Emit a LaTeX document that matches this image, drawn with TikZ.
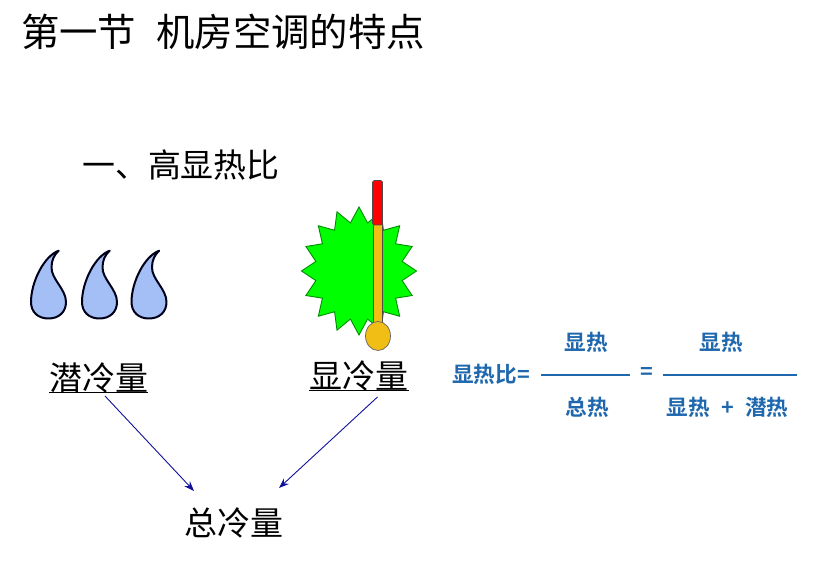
\documentclass[tikz,border=0pt]{standalone}
\usepackage{fontspec}
\setmainfont{Noto Sans CJK SC}
\newfontfamily\cjkb{Noto Sans CJK SC Bold}
\usetikzlibrary{arrows.meta,calc}
\definecolor{fblue}{HTML}{1F68AE}
\definecolor{dropfill}{HTML}{A3BFF5}
\definecolor{arrowblue}{HTML}{10109A}
\definecolor{tubey}{HTML}{F0BE14}
\tikzset{
  x=1pt,y=-1pt,
  txt/.style={inner sep=0pt,anchor=center,text=black},
  title/.style={txt,font=\fontsize{38.4}{38}\selectfont},
  sub/.style={txt,font=\fontsize{32.9}{33}\selectfont},
  qty/.style={txt,font=\fontsize{33}{33}\selectfont},
  fml/.style={inner sep=0pt,anchor=center,text=fblue,font=\cjkb\fontsize{21.6}{21}\selectfont},
  fmlline/.style={draw=fblue,line width=1.7pt},
  uline/.style={draw=black,line width=1.6pt},
  flow/.style={draw=arrowblue,line width=0.9pt,-{Stealth[length=10pt,width=7.5pt]}},
  dropstyle/.style={draw=black!90!blue,line width=2pt,fill=dropfill,line join=round}
}
\newcommand{\dropshape}[1]{%
  \draw[dropstyle,shift={(#1,0)}] (58.7,250.7)
    .. controls (44,256) and (31,282) .. (31,302)
    .. controls (31,312) and (38,318.5) .. (48.3,318.5)
    .. controls (59,318.5) and (66,312) .. (66,302)
    .. controls (66,289) and (51,279) .. (51.5,267)
    .. controls (51.7,260) and (54,255) .. (58.7,250.7) -- cycle;}
\begin{document}
\begin{tikzpicture}
\useasboundingbox (0,0) rectangle (823,572);
\node[title,anchor=west] (t1) at (21,32) {第一节};
\node[title,anchor=west] (t2) at (156,32) {机房空调的特点};
\node[sub,anchor=west] (t3) at (82,165) {一、高显热比};
% drops
\dropshape{0}\dropshape{51}\dropshape{100.5}
% star
\draw[draw=black!45!green,line width=0.9pt,fill=green]
  plot[samples at={0,11.25,...,348.75}] ({359+(mod(round(\x/11.25),2)==0 ? 57.5 : 44)*cos(\x)},{271+(mod(round(\x/11.25),2)==0 ? 64 : 49)*sin(\x)}) -- cycle;
% thermometer
\draw[draw=black!70,line width=0.7pt,fill=tubey] (373.5,224) rectangle (382,325);
\draw[draw=black!60,line width=0.7pt,fill=tubey] (378,336) ellipse [x radius=12.5,y radius=14.5];
\draw[draw=black!70,line width=0.7pt,fill=red,rounded corners=1.5pt] (372.5,180.5) rectangle (382.5,225);
% quantities
\node[qty] (qian) at (99,378) {潜冷量};
\node[qty] (xian) at (359,376) {显冷量};
\node[qty] (zong) at (233.5,523) {总冷量};
\draw[uline] ($(qian.center)+(-50,14.5)$) -- ($(qian.center)+(49,14.5)$);
\draw[uline] ($(xian.center)+(-50,14.5)$) -- ($(xian.center)+(50,14.5)$);
\coordinate (qs) at (105,396);
\coordinate (qe) at (194,491);
\coordinate (xs) at (377.5,397);
\coordinate (xe) at (279,488);
\draw[flow] (qs) -- (qe);
\draw[flow] (xs) -- (xe);
% formula
\node[fml,anchor=west] (ratio) at (452,374.5) {显热比=};
\node[fml] (n1) at (586.5,342.5) {显热};
\node[fml] (d1) at (587,407.5) {总热};
\node[fml] (eq) at (646.5,373) {=};
\node[fml] (n2) at (721.5,342.5) {显热};
\node[fml] (d2) at (727.5,407.5) {显热\hspace{11.5pt}+\hspace{11.5pt}潜热};
\coordinate (l1a) at (541,375); \coordinate (l1b) at (630,375);
\coordinate (l2a) at (663,375); \coordinate (l2b) at (797,375);
\draw[fmlline] (l1a) -- (l1b);
\draw[fmlline] (l2a) -- (l2b);
\end{tikzpicture}
\end{document}
